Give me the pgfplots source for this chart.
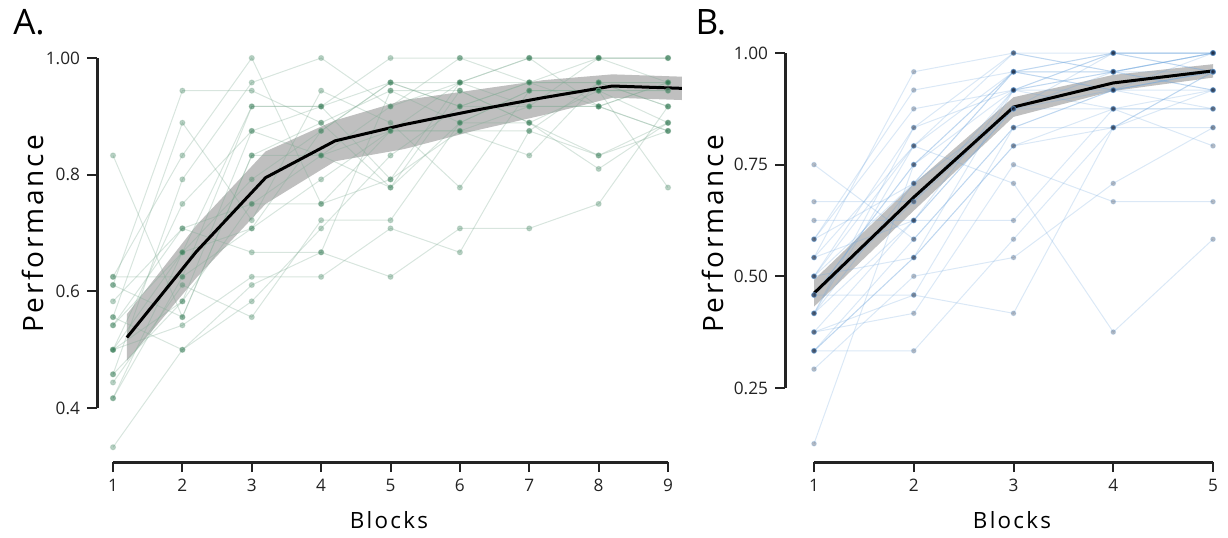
\documentclass[border=0pt]{standalone}
\usepackage{fontspec}
\setmainfont{Open Sans}
\usepackage{pgfplots}
\pgfplotsset{compat=1.18}
\usepgfplotslibrary{fillbetween}

\definecolor{lnA}{RGB}{125,170,145}
\definecolor{mkA}{RGB}{40,115,75}
\definecolor{lnB}{RGB}{110,165,220}
\definecolor{mkB}{RGB}{30,45,70}
\definecolor{ax}{RGB}{35,35,35}

\pgfplotsset{
  subjA/.style={lnA, draw opacity=0.3, line width=0.5pt, mark=*, mark size=1.3pt,
    mark options={draw=none, fill=mkA, fill opacity=0.33}},
  subjB/.style={lnB, draw opacity=0.25, line width=0.5pt, mark=*, mark size=1.2pt,
    mark options={draw=none, fill=mkB, fill opacity=0.33}},
  base/.style={scale only axis, clip=false, axis line style={draw=none},
    tick align=outside, tick pos=left, major tick length=5pt,
    tick style={ax, line width=1pt},
    /pgf/number format/assume math mode=true,
    ticklabel style={font=\fontsize{8.6}{10}\selectfont, text=ax}},
}

\begin{document}
\begin{tikzpicture}

% ---------------- Panel A ----------------
\begin{axis}[base, at={(48.5pt,37.5pt)}, anchor=south west,
  width=293pt, height=206pt,
  xmin=0.769, xmax=9.216, ymin=0.3077, ymax=1.0137,
  xtick={1,2,3,4,5,6,7,8,9},
  ytick={0.4,0.6,0.8,1.0}, yticklabels={0.4,0.6,0.8,1.00}]
\draw[ax, line width=1.5pt] (axis cs:0.769,0.4) -- (axis cs:0.769,1.0);
\draw[ax, line width=1.5pt] (axis cs:1,0.3077) -- (axis cs:9,0.3077);

\addplot[subjA] coordinates {(1,0.500)(2,0.667)(3,0.917)(4,0.917)(5,1.000)(6,1.000)(7,1.000)(8,1.000)(9,1.000)};
\addplot[subjA] coordinates {(1,0.625)(2,0.625)(3,0.917)(4,0.917)(5,0.958)(6,0.958)(7,1.000)(8,1.000)(9,1.000)};
\addplot[subjA] coordinates {(1,0.458)(2,0.583)(3,0.750)(4,0.833)(5,0.917)(6,0.958)(7,0.958)(8,0.917)(9,0.958)};
\addplot[subjA] coordinates {(1,0.417)(2,0.625)(3,0.708)(4,0.792)(5,0.875)(6,0.875)(7,0.875)(8,0.958)(9,0.917)};
\addplot[subjA] coordinates {(1,0.500)(2,0.750)(3,0.875)(4,0.917)(5,0.792)(6,0.958)(7,1.000)(8,0.917)(9,0.875)};
\addplot[subjA] coordinates {(1,0.542)(2,0.667)(3,0.792)(4,0.875)(5,0.958)(6,0.917)(7,0.917)(8,1.000)(9,0.958)};
\addplot[subjA] coordinates {(1,0.583)(2,0.708)(3,0.667)(4,0.667)(5,0.625)(6,0.708)(7,0.708)(8,0.750)(9,0.917)};
\addplot[subjA] coordinates {(1,0.500)(2,0.542)(3,0.625)(4,0.625)(5,0.708)(6,0.667)(7,0.875)(8,0.833)(9,0.875)};
\addplot[subjA] coordinates {(1,0.458)(2,0.792)(3,0.958)(4,1.000)(5,0.917)(6,1.000)(7,0.958)(8,1.000)(9,1.000)};
\addplot[subjA] coordinates {(1,0.625)(2,0.833)(3,1.000)(4,0.750)(5,0.875)(6,0.875)(7,0.833)(8,0.958)(9,0.958)};
\addplot[subjA] coordinates {(1,0.333)(2,0.500)(3,0.583)(4,0.708)(5,0.833)(6,0.917)(7,0.958)(8,0.958)(9,0.917)};
\addplot[subjA] coordinates {(1,0.500)(2,0.583)(3,0.875)(4,0.833)(5,0.875)(6,0.958)(7,0.917)(8,0.917)(9,0.958)};
\addplot[subjA] coordinates {(1,0.417)(2,0.667)(3,0.708)(4,0.875)(5,0.958)(6,0.917)(7,0.958)(8,0.958)(9,0.958)};
\addplot[subjA] coordinates {(1,0.611)(2,0.944)(3,0.944)(4,0.889)(5,0.944)(6,0.889)(7,0.944)(8,0.944)(9,0.944)};
\addplot[subjA] coordinates {(1,0.833)(2,0.556)(3,0.833)(4,0.889)(5,0.778)(6,0.944)(7,0.889)(8,0.833)(9,0.889)};
\addplot[subjA] coordinates {(1,0.556)(2,0.889)(3,0.722)(4,0.944)(5,0.889)(6,0.778)(7,0.944)(8,0.944)(9,0.778)};
\addplot[subjA] coordinates {(1,0.444)(2,0.611)(3,0.556)(4,0.722)(5,0.722)(6,0.889)(7,0.889)(8,0.944)(9,0.944)};
\addplot[subjA] coordinates {(1,0.556)(2,0.500)(3,0.611)(4,0.667)(5,0.944)(6,0.944)(7,0.889)(8,0.810)(9,0.889)};
\addplot[subjA] coordinates {(1,0.611)(2,0.556)(3,0.833)(4,0.833)(5,0.778)(6,0.889)(7,0.944)(8,0.944)(9,0.889)};
\addplot[subjA] coordinates {(1,0.542)(2,0.708)(3,0.750)(4,0.750)(5,0.792)(6,0.875)(7,0.917)(8,0.917)(9,0.875)};

\addplot[name path=uA, draw=none] coordinates {(1.2,0.561)(2.2,0.713)(3.2,0.840)(4.2,0.893)(5.2,0.928)(6.2,0.945)(7.2,0.962)(8.2,0.972)(9.2,0.968)};
\addplot[name path=lA, draw=none] coordinates {(1.2,0.481)(2.2,0.623)(3.2,0.750)(4.2,0.823)(5.2,0.844)(6.2,0.875)(7.2,0.902)(8.2,0.932)(9.2,0.928)};
\addplot[fill=black, fill opacity=0.25, draw=none] fill between[of=uA and lA];
\addplot[black, line width=1.5pt] coordinates {(1.2,0.521)(2.2,0.668)(3.2,0.795)(4.2,0.858)(5.2,0.886)(6.2,0.910)(7.2,0.932)(8.2,0.952)(9.2,0.948)};
\end{axis}

% ---------------- Panel B ----------------
\begin{axis}[base, at={(392.5pt,37.5pt)}, anchor=south west,
  width=217.5pt, height=208.5pt,
  xmin=0.709, xmax=5.07, ymin=0.084, ymax=1.018,
  xtick={1,2,3,4,5},
  ytick={0.25,0.5,0.75,1.0}, yticklabels={0.25,0.50,0.75,1.00}]
\draw[ax, line width=1.5pt] (axis cs:0.709,0.25) -- (axis cs:0.709,1.0);
\draw[ax, line width=1.5pt] (axis cs:1,0.084) -- (axis cs:5,0.084);

\addplot[subjB] coordinates {(1,0.333)(2,0.542)(3,0.917)(4,1.000)(5,1.000)};
\addplot[subjB] coordinates {(1,0.500)(2,0.833)(3,0.917)(4,1.000)(5,1.000)};
\addplot[subjB] coordinates {(1,0.458)(2,0.750)(3,0.958)(4,0.958)(5,1.000)};
\addplot[subjB] coordinates {(1,0.417)(2,0.708)(3,0.958)(4,1.000)(5,0.958)};
\addplot[subjB] coordinates {(1,0.375)(2,0.625)(3,0.875)(4,0.958)(5,0.958)};
\addplot[subjB] coordinates {(1,0.542)(2,0.792)(3,1.000)(4,0.958)(5,0.917)};
\addplot[subjB] coordinates {(1,0.583)(2,0.917)(3,0.958)(4,1.000)(5,1.000)};
\addplot[subjB] coordinates {(1,0.333)(2,0.583)(3,0.833)(4,0.917)(5,0.958)};
\addplot[subjB] coordinates {(1,0.458)(2,0.667)(3,0.875)(4,0.917)(5,0.958)};
\addplot[subjB] coordinates {(1,0.500)(2,0.542)(3,0.792)(4,0.875)(5,0.917)};
\addplot[subjB] coordinates {(1,0.417)(2,0.625)(3,0.917)(4,0.958)(5,1.000)};
\addplot[subjB] coordinates {(1,0.542)(2,0.958)(3,1.000)(4,1.000)(5,0.958)};
\addplot[subjB] coordinates {(1,0.750)(2,0.583)(3,0.833)(4,0.833)(5,0.958)};
\addplot[subjB] coordinates {(1,0.667)(2,0.667)(3,0.917)(4,0.875)(5,0.875)};
\addplot[subjB] coordinates {(1,0.625)(2,0.625)(3,0.625)(4,0.875)(5,0.875)};
\addplot[subjB] coordinates {(1,0.292)(2,0.500)(3,0.542)(4,0.708)(5,0.833)};
\addplot[subjB] coordinates {(1,0.125)(2,0.750)(3,0.958)(4,0.958)(5,1.000)};
\addplot[subjB] coordinates {(1,0.333)(2,0.333)(3,0.583)(4,0.833)(5,0.917)};
\addplot[subjB] coordinates {(1,0.458)(2,0.458)(3,0.417)(4,0.833)(5,0.958)};
\addplot[subjB] coordinates {(1,0.375)(2,0.417)(3,0.750)(4,0.667)(5,0.667)};
\addplot[subjB] coordinates {(1,0.500)(2,0.792)(3,0.708)(4,0.375)(5,0.583)};
\addplot[subjB] coordinates {(1,0.583)(2,0.708)(3,0.875)(4,0.875)(5,0.792)};
\addplot[subjB] coordinates {(1,0.417)(2,0.833)(3,1.000)(4,0.958)(5,1.000)};
\addplot[subjB] coordinates {(1,0.458)(2,0.750)(3,0.917)(4,0.958)(5,0.917)};
\addplot[subjB] coordinates {(1,0.500)(2,0.708)(3,0.958)(4,0.917)(5,1.000)};
\addplot[subjB] coordinates {(1,0.375)(2,0.458)(3,0.833)(4,0.917)(5,0.875)};
\addplot[subjB] coordinates {(1,0.542)(2,0.625)(3,0.875)(4,1.000)(5,1.000)};
\addplot[subjB] coordinates {(1,0.333)(2,0.542)(3,0.792)(4,0.833)(5,0.833)};
\addplot[subjB] coordinates {(1,0.583)(2,0.875)(3,0.917)(4,0.917)(5,0.958)};
\addplot[subjB] coordinates {(1,0.417)(2,0.792)(3,0.958)(4,0.917)(5,0.917)};

\addplot[name path=uB, draw=none] coordinates {(1,0.492)(2,0.707)(3,0.901)(4,0.951)(5,0.975)};
\addplot[name path=lB, draw=none] coordinates {(1,0.432)(2,0.647)(3,0.857)(4,0.915)(5,0.945)};
\addplot[fill=black, fill opacity=0.25, draw=none] fill between[of=uB and lB];
\addplot[black, line width=1.5pt] coordinates {(1,0.462)(2,0.677)(3,0.879)(4,0.933)(5,0.960)};
\end{axis}

% ---------------- labels ----------------
\node[font=\fontsize{17.5}{20}\selectfont] at (14.5pt,257.25pt) {A.};
\node[font=\fontsize{17.5}{20}\selectfont] at (355.5pt,257.25pt) {B.};
\node[rotate=90, font=\fontsize{14}{16}\selectfont\addfontfeatures{LetterSpace=10}] at (16.5pt,151.5pt) {Performance};
\node[rotate=90, font=\fontsize{14}{16}\selectfont\addfontfeatures{LetterSpace=10}] at (356.5pt,151.5pt) {Performance};
\node[font=\fontsize{11.2}{13}\selectfont\addfontfeatures{LetterSpace=10}] at (194.5pt,8.5pt) {Blocks};
\node[font=\fontsize{11.2}{13}\selectfont\addfontfeatures{LetterSpace=10}] at (506pt,8.5pt) {Blocks};
\path (0,0) rectangle (614pt,268.5pt);
\end{tikzpicture}
\end{document}
